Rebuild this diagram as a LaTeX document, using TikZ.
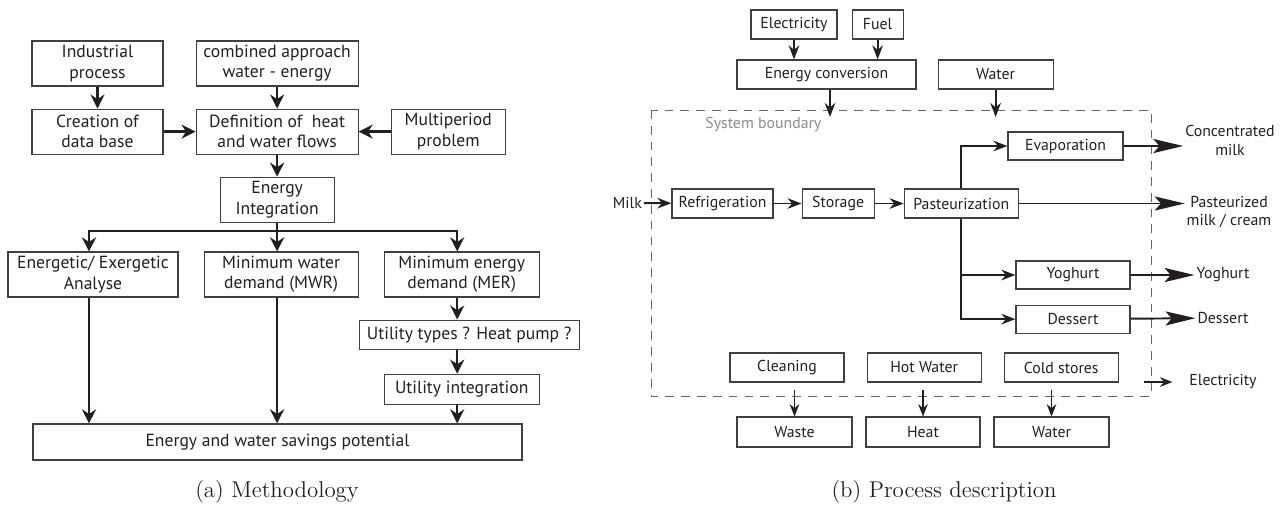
\documentclass[tikz,border=0pt]{standalone}
\usepackage{fontspec}
\setsansfont{PT Sans}
\usepackage{xcolor}
\usepackage{tikz}
\usetikzlibrary{arrows.meta, positioning}
\definecolor{ink}{HTML}{231F20}
\tikzset{
    mbox/.style={rectangle, draw=black!75, line width=0.65pt, align=center, inner sep=0pt, minimum height=0.9cm, text=ink, font=\sffamily\fontsize{10}{11.5}\selectfont},
    pbox/.style={rectangle, draw=black!75, line width=0.65pt, align=center, inner sep=0pt, minimum height=0.58cm, text=ink, font=\sffamily\fontsize{9}{10.8}\selectfont},
    outlabel/.style={align=center, inner sep=1pt, text=ink, font=\sffamily\fontsize{9}{10.8}\selectfont},
    arrow/.style={-{Stealth[length=8pt, width=8pt]}, line width=1.4pt, draw=ink},
    flow/.style={-{Stealth[length=8pt, width=6pt]}, line width=1.1pt, draw=ink},
    outflow/.style={-{Stealth[length=17pt, width=8pt, inset=3.5pt]}, line width=1.1pt, draw=ink},
    smallarrow/.style={-{Stealth[length=7pt, width=5.5pt]}, line width=0.8pt, draw=ink},
    boundary/.style={dashed, dash pattern=on 5pt off 4pt, draw=black!60, line width=0.5pt},
    caption/.style={font=\fontsize{13}{15}\selectfont, text=ink}
}

\begin{document}
\begin{tikzpicture}[x=0.02cm, y=-0.02cm]
    \useasboundingbox (0,0) rectangle (1288,505);

    % (a) methodology
    \node (indus) [mbox, minimum width=2.62cm] at (97.5,63.5) {Industrial\\process};
    \node (combined) [mbox, right=0.64cm of indus, minimum width=3.24cm] {combined approach\\water - energy};
    \node (creation) [mbox, below=0.44cm of indus, minimum width=2.62cm] {Creation of\\data base};
    \node (defin) [mbox, below=0.44cm of combined, minimum width=3.24cm] {Definition of\ \ heat\\and water flows};
    \node (multi) [mbox, right=0.64cm of defin, minimum width=2.28cm] {Multiperiod\\problem};
    \node (energint) [mbox, below=0.44cm of defin, minimum width=2.28cm] {Energy\\Integration};

    \node (exerg) [mbox, minimum width=3.40cm] at (93,274.5) {Energetic/ Exergetic\\Analyse};
    \node (mwr) [mbox, right=0.5cm of exerg, minimum width=3.08cm] {Minimum water\\demand (MWR)};
    \node (mer) [mbox, right=0.5cm of mwr, minimum width=3.10cm] {Minimum energy\\demand (MER)};
    \node (utypes) [mbox, below=0.44cm of mer, xshift=0.15cm, minimum width=4.40cm, minimum height=0.58cm] {Utility types ? Heat pump ?};
    \node (uinteg) [mbox, below=0.48cm of utypes, xshift=-0.15cm, minimum width=3.10cm, minimum height=0.6cm] {Utility integration};
    \node (savings) [mbox, minimum width=9.78cm, minimum height=0.72cm] at (277.5,442) {Energy and water savings potential};

    \coordinate (bus) at ([yshift=-0.16cm]energint.south);

    \draw[arrow] (indus) -- (creation);
    \draw[arrow] (combined) -- (defin);
    \draw[arrow] (creation) -- (defin);
    \draw[arrow] (multi) -- (defin);
    \draw[arrow] (defin) -- (energint);

    \draw[arrow] (energint.south) -- (bus) -| ([xshift=-0.08cm]exerg.north);
    \draw[arrow] (bus) -| ([xshift=-0.09cm]mer.north);
    \draw[arrow] (energint.south) -- (energint.south |- mwr.north);

    \draw[arrow] ([xshift=-0.08cm]exerg.south) -- ([xshift=-0.08cm]exerg.south |- savings.north);
    \draw[arrow] ([xshift=-0.08cm]mwr.south) -- ([xshift=-0.08cm]mwr.south |- savings.north);
    \draw[arrow] ([xshift=-0.09cm]mer.south) -- ([xshift=-0.09cm]mer.south |- utypes.north);
    \draw[arrow] ([xshift=-0.09cm]mer.south |- utypes.south) -- ([xshift=-0.09cm]mer.south |- uinteg.north);
    \draw[arrow] ([xshift=-0.09cm]uinteg.south) -- ([xshift=-0.09cm]uinteg.south |- savings.north);

    \node (capa) [caption] at (277,492) {(a) Methodology};

    % (b) process description
    \node (elec) [pbox, minimum width=1.72cm] at (794,24.5) {Electricity};
    \node (fuel) [pbox, right=0.28cm of elec, minimum width=1.02cm] {Fuel};
    \node (econv) [pbox, minimum width=3.58cm] at (826.5,74.5) {Energy conversion};
    \node (water) [pbox, right=0.42cm of econv, minimum width=2.30cm] {Water};

    \coordinate (bndNW) at (651,110);
    \coordinate (bndSE) at (1151,396);
    \coordinate (sysIn) at (830,117);
    \draw[boundary] (bndNW) rectangle (bndSE);
    \node (bndlabel) [anchor=west, inner sep=0pt, text=black!45, font=\sffamily\fontsize{9}{10.8}\selectfont] at (705,124) {System boundary};

    \draw[flow] (elec) -- (elec |- econv.north);
    \draw[flow] (fuel.south) -- (fuel.south |- econv.north);
    \draw[flow] (econv.south -| sysIn) -- (sysIn);
    \draw[flow] (water.south) -- (water.south |- sysIn);

    \node (milk) [outlabel, anchor=east] at (644,203) {Milk};
    \node (refrig) [pbox, minimum width=2.02cm] at (722.5,203.5) {Refrigeration};
    \node (storage) [pbox, right=0.56cm of refrig, minimum width=1.44cm] {Storage};
    \node (pasteur) [pbox, right=0.58cm of storage, minimum width=2.28cm] {Pasteurization};
    \node (evap) [pbox, minimum width=2.30cm, minimum height=0.56cm] at (1065.5,146) {Evaporation};
    \node (yog) [pbox, minimum width=2.28cm, minimum height=0.56cm] at (1073,275) {Yoghurt};
    \node (dess) [pbox, below=0.3cm of yog, minimum width=2.28cm, minimum height=0.56cm] {Dessert};

    \draw[flow] (milk) -- (refrig);
    \draw[flow] (refrig) -- (storage);
    \draw[flow] (storage) -- (pasteur);
    \draw[flow] (pasteur.north) |- (evap.west);
    \draw[flow] (pasteur.south) |- (yog.west);
    \draw[flow] (pasteur.south) |- (dess.west);

    \node (concout) [outlabel] at (1230,140) {Concentrated\\milk};
    \node (pastout) [outlabel] at (1229,212) {Pasteurized\\milk / cream};
    \node (yogout) [outlabel] at (1223,275) {Yoghurt};
    \node (dessout) [outlabel] at (1223,318) {Dessert};
    \node (elecout) [outlabel] at (1223,382) {Electricity};

    \draw[outflow] (evap.east) -- (evap.east -| concout.west);
    \draw[outflow] (pasteur.east) -- (pasteur.east -| pastout.west);
    \draw[outflow] (yog) -- (yogout);
    \draw[outflow] (dess) -- (dessout);
    \coordinate (elecSrc) at (1144,382);
    \draw[smallarrow] (elecSrc) -- ([xshift=-0.3cm]elecout.west);

    \node (clean) [pbox, minimum width=2.28cm] at (787,367.5) {Cleaning};
    \node (hotw) [pbox, right=0.44cm of clean, minimum width=2.28cm] {Hot Water};
    \node (colds) [pbox, right=0.44cm of hotw, minimum width=2.28cm] {Cold stores};
    \node (waste) [pbox, minimum width=2.30cm, minimum height=0.6cm] at (794.5,432) {Waste};
    \node (heat) [pbox, minimum width=2.28cm, minimum height=0.6cm] at (923,432) {Heat};
    \node (wat) [pbox, minimum width=2.30cm, minimum height=0.6cm] at (1051.5,432) {Water};

    \draw[smallarrow] ([yshift=-0.14cm]waste.north |- clean.south) -- (waste.north);
    \draw[smallarrow] ([yshift=-0.14cm]heat.north |- hotw.south) -- (heat.north);
    \draw[smallarrow] ([yshift=-0.14cm]wat.north |- colds.south) -- (wat.north);

    \node (capb) [caption] at (944,492) {(b) Process description};
\end{tikzpicture}
\end{document}
